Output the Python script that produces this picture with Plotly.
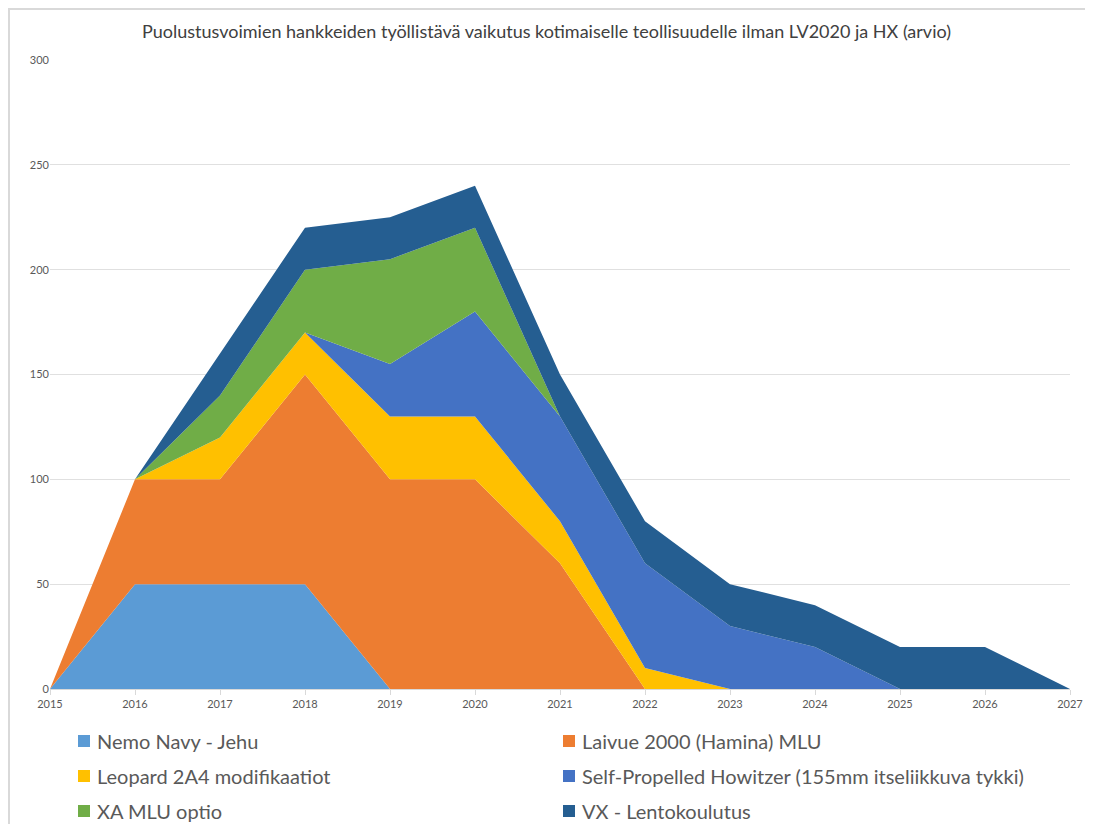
import plotly.graph_objects as go

years = list(range(2015, 2028))
series_names = [
    "Nemo Navy - Jehu",
    "Laivue 2000 (Hamina) MLU",
    "Leopard 2A4 modifikaatiot",
    "Self-Propelled Howitzer (155mm itseliikkuva tykki)",
    "XA MLU optio",
    "VX - Lentokoulutus",
]
nemo =    [0, 50, 50, 50, 0, 0, 0, 0, 0, 0, 0, 0, 0]
laivue =  [0, 50, 50, 100, 100, 100, 60, 0, 0, 0, 0, 0, 0]
leopard = [0, 0, 20, 20, 30, 30, 20, 10, 0, 0, 0, 0, 0]
sph =     [0, 0, 0, 0, 25, 50, 50, 50, 30, 20, 0, 0, 0]
xa =      [0, 0, 20, 30, 50, 40, 0, 0, 0, 0, 0, 0, 0]
vx =      [0, 0, 20, 20, 20, 20, 20, 20, 20, 20, 20, 20, 0]
colors = ["#5B9BD5", "#ED7D31", "#FFC000", "#4472C4", "#70AD47", "#255E91"]

OFF = 8  # default page body margin
W, H = 1093 - 2 * OFF, 832 - 2 * OFF
L, T = 50 - OFF, 60 - OFF
R = W - (1070 - OFF)
B = H - (689 - OFF)
PW, PH = W - L - R, H - T - B

def px(x):  # screen x -> paper
    return (x - OFF - L) / PW

def py(y):  # screen y -> paper
    return (H - B - (y - OFF)) / PH

fig = go.Figure()
for name, vals, c in zip(series_names, [nemo, laivue, leopard, sph, xa, vx], colors):
    fig.add_trace(go.Scatter(
        x=years, y=vals, name=name, mode="lines", stackgroup="one",
        line=dict(width=0, color=c), fillcolor=c, showlegend=False,
    ))

font = "Lato, 'Open Sans', sans-serif"
fig.update_layout(
    width=W, height=H,
    paper_bgcolor="white", plot_bgcolor="white",
    margin=dict(l=L, r=R, t=T, b=B, autoexpand=False),
    title=dict(text="Puolustusvoimien hankkeiden työllistävä vaikutus kotimaiselle teollisuudelle ilman LV2020 ja HX (arvio)",
               x=0.5, xanchor="center", y=1 - (32 - OFF) / H, yanchor="middle",
               font=dict(family=font, size=18, color="#404040")),
    font=dict(family=font, color="#595959"),
    xaxis=dict(range=[2015, 2027], tickmode="array", tickvals=years,
               ticktext=[str(y) for y in years], showgrid=False, automargin=False,
               showline=True, linecolor="#d9d9d9", ticks="outside", tickcolor="#d9d9d9",
               ticklen=5, tickfont=dict(size=11, color="#595959"), zeroline=False),
    yaxis=dict(range=[0, 300], tickvals=[0, 50, 100, 150, 200, 250, 300], automargin=False,
               showgrid=True, gridcolor="#e0e0e0", zeroline=False,
               tickfont=dict(size=11, color="#595959"), ticklen=0, ticks=""),
    showlegend=False,
)
fig.add_shape(type="rect", xref="paper", yref="paper",
              x0=px(OFF + 1), x1=px(1110), y0=py(850), y1=py(OFF + 1),
              line=dict(color="#d9d9d9", width=2), fillcolor="rgba(0,0,0,0)", layer="below")

# legend (2 columns, row-wise order)
col_x = [78, 563]
row_y = [741, 776, 811]
for i, (name, c) in enumerate(zip(series_names, colors)):
    cx = col_x[i % 2]
    ry = row_y[i // 2]
    fig.add_shape(type="rect", xref="paper", yref="paper",
                  x0=px(cx), x1=px(cx + 12), y0=py(ry + 6), y1=py(ry - 6),
                  line=dict(width=0), fillcolor=c)
    fig.add_annotation(xref="paper", yref="paper", x=px(cx + 17), y=py(ry),
                       xanchor="left", yanchor="middle", showarrow=False,
                       text=name, font=dict(family=font, size=20, color="#595959"))
fig.write_html("out.html")
